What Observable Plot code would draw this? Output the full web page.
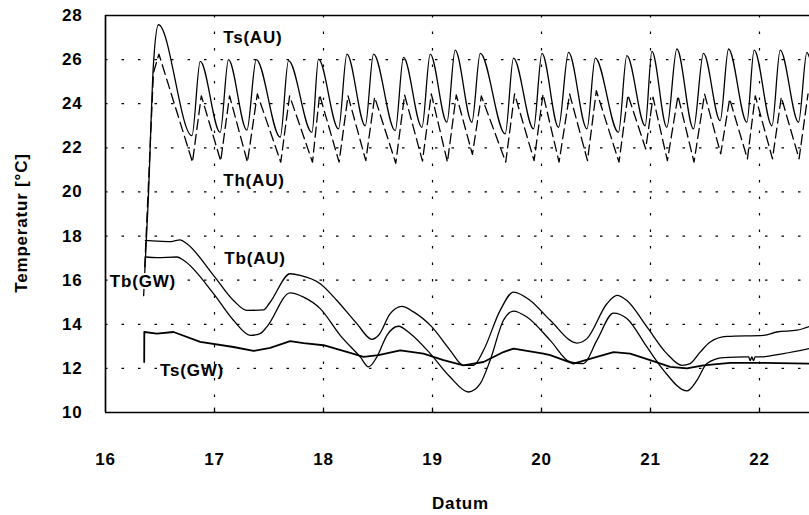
<!DOCTYPE html>
<html><head><meta charset="utf-8">
<script src="https://cdn.jsdelivr.net/npm/d3@7"></script>
<script src="https://cdn.jsdelivr.net/npm/@observablehq/plot@0.6"></script>
<style>html,body{margin:0;padding:0;background:#fff;overflow:hidden}#chart svg{display:block}</style>
</head><body><div id="chart"></div>
<script>
const xTicks = [16, 17, 18, 19, 20, 21, 22];
const yTicks = [10, 12, 14, 16, 18, 20, 22, 24, 26, 28];

// Ts(AU) – solid sawtooth
const tsAU_x = [16.35, 16.392, 16.44, 16.486, 16.793, 16.869, 17.052, 17.128, 17.297, 17.383, 17.603, 17.679, 17.894, 17.954, 18.138, 18.215, 18.383, 18.459, 18.658, 18.734, 18.903, 18.979, 19.132, 19.208, 19.361, 19.438, 19.667, 19.743, 19.927, 20.004, 20.156, 20.248, 20.417, 20.493, 20.706, 20.783, 20.951, 21.013, 21.150, 21.242, 21.394, 21.486, 21.639, 21.716, 21.884, 21.951, 22.114, 22.190, 22.358, 22.435, 22.458];
const tsAU_y = [15.3, 19.6, 25.8, 27.58, 22.55, 25.92, 22.7, 26.0, 22.8, 26.0, 22.48, 25.95, 22.7, 26.02, 22.86, 26.25, 23.0, 26.25, 22.78, 26.1, 22.93, 26.25, 23.16, 26.43, 23.16, 26.28, 22.63, 26.07, 22.86, 26.28, 22.93, 26.33, 22.86, 26.07, 22.7, 26.18, 23.0, 26.37, 22.93, 26.48, 22.86, 26.28, 23.23, 26.48, 23.16, 26.43, 23.0, 26.43, 23.16, 26.33, 26.1];

// Th(AU) – dashed
const thAU_x = [16.36, 16.44, 16.49, 16.798, 16.879, 17.057, 17.138, 17.302, 17.393, 17.608, 17.689, 17.899, 17.964, 18.143, 18.225, 18.388, 18.469, 18.663, 18.744, 18.908, 18.989, 19.137, 19.218, 19.366, 19.448, 19.672, 19.753, 19.932, 20.014, 20.161, 20.258, 20.422, 20.503, 20.711, 20.793, 20.956, 21.023, 21.155, 21.252, 21.399, 21.496, 21.644, 21.726, 21.889, 21.961, 22.119, 22.200, 22.363, 22.445];
const thAU_y = [16.6, 25.4, 26.25, 21.35, 24.36, 21.4, 24.36, 21.35, 24.44, 21.35, 24.36, 21.35, 24.41, 21.35, 24.36, 21.42, 24.3, 21.3, 24.4, 21.4, 24.45, 21.35, 24.4, 21.7, 24.35, 21.35, 24.45, 21.42, 24.44, 21.35, 24.44, 21.42, 24.59, 21.35, 24.4, 21.95, 24.3, 21.42, 24.36, 21.35, 24.44, 21.73, 24.22, 21.5, 24.36, 21.5, 24.3, 21.5, 24.44];

// Tb(AU) – upper smooth curve
const tbAU_x = [16.366, 16.472, 16.60, 16.685, 16.747, 16.991, 17.174, 17.297, 17.45, 17.51, 17.694, 17.786, 17.970, 18.123, 18.306, 18.444, 18.505, 18.612, 18.719, 18.826, 18.994, 19.162, 19.284, 19.376, 19.468, 19.621, 19.743, 19.896, 20.080, 20.325, 20.417, 20.600, 20.692, 20.783, 20.967, 21.150, 21.288, 21.364, 21.456, 21.548, 21.701, 22.037, 22.160, 22.343, 22.458];
const tbAU_y = [17.8, 17.77, 17.75, 17.83, 17.65, 16.22, 15.08, 14.63, 14.65, 15.0, 16.29, 16.22, 15.84, 15.08, 14.03, 13.32, 13.5, 14.48, 14.81, 14.56, 13.88, 12.82, 12.14, 12.14, 12.82, 14.63, 15.46, 15.08, 14.18, 13.15, 13.35, 14.93, 15.31, 15.08, 13.88, 12.67, 12.14, 12.22, 12.74, 13.2, 13.45, 13.5, 13.65, 13.73, 13.9];

// Tb(GW) – lower smooth curve
const tbGW_x = [16.366, 16.472, 16.655, 16.716, 16.991, 17.174, 17.328, 17.419, 17.480, 17.694, 17.817, 17.970, 18.153, 18.337, 18.413, 18.490, 18.582, 18.688, 18.795, 18.979, 19.162, 19.330, 19.438, 19.529, 19.651, 19.743, 19.866, 20.080, 20.263, 20.385, 20.508, 20.661, 20.783, 20.967, 21.119, 21.334, 21.426, 21.517, 21.670, 21.884, 21.90, 21.915, 21.93, 21.945, 21.96, 22.006, 22.220, 22.458];
const tbGW_y = [17.05, 17.02, 17.05, 16.9, 15.39, 14.18, 13.5, 13.58, 13.88, 15.42, 15.23, 14.71, 13.5, 12.52, 12.07, 12.52, 13.5, 13.91, 13.58, 12.67, 11.61, 10.93, 11.31, 12.37, 14.18, 14.6, 14.33, 13.27, 12.29, 12.22, 13.27, 14.51, 14.26, 12.97, 11.92, 10.98, 11.46, 12.22, 12.49, 12.52, 12.52, 12.35, 12.52, 12.35, 12.52, 12.52, 12.67, 12.9];

// Ts(GW) – flat-ish bottom line
const tsGW_x = [16.355, 16.356, 16.472, 16.624, 16.869, 17.174, 17.358, 17.511, 17.694, 17.817, 18.0, 18.245, 18.367, 18.505, 18.704, 18.917, 19.101, 19.284, 19.468, 19.651, 19.743, 20.018, 20.080, 20.294, 20.508, 20.661, 20.813, 20.997, 21.181, 21.334, 21.486, 21.731, 22.037, 22.458];
const tsGW_y = [12.29, 13.65, 13.58, 13.65, 13.2, 12.97, 12.79, 12.93, 13.24, 13.15, 13.05, 12.7, 12.52, 12.6, 12.82, 12.67, 12.37, 12.14, 12.29, 12.74, 12.9, 12.67, 12.6, 12.22, 12.52, 12.74, 12.67, 12.37, 12.07, 12.0, 12.14, 12.25, 12.25, 12.22];

const labelNames = ["Ts(AU)", "Th(AU)", "Tb(AU)", "Tb(GW)", "Ts(GW)"];
const labelX = [17.08, 17.08, 17.09, 16.04, 16.5];
const labelY = [27.0, 20.52, 16.96, 15.92, 11.92];
const labelHalo = [false, false, false, true, false];

const pts = (xs, ys) => xs.map((x, i) => ({x, y: ys[i]}));
const labels = labelNames.map((name, i) => ({name, x: labelX[i], y: labelY[i], halo: labelHalo[i]}));

const FONT = "Arial, 'Liberation Sans', Helvetica, sans-serif";
const grid = {stroke: "#000", strokeOpacity: 1, strokeWidth: 1.2, strokeDasharray: "2.5,14"};
const txt = {fontSize: 17, fontWeight: "bold", fill: "#000"};

const chart = Plot.plot({
  width: 809, height: 515,
  marginLeft: 105, marginRight: 0, marginTop: 15, marginBottom: 103,
  style: {fontFamily: FONT, fontWeight: "bold", fontSize: "17px", letterSpacing: "0.8px", background: "#fff", color: "#000"},
  x: {domain: [16, 16 + 704 / 109], ticks: xTicks},
  y: {domain: [10, 28], ticks: yTicks},
  marks: [
    Plot.gridX(xTicks.slice(1), grid),
    Plot.gridY(yTicks.slice(1, -1), grid),
    Plot.ruleY([10, 28], {stroke: "#000", strokeWidth: 1.7}),
    Plot.ruleX([16], {stroke: "#000", strokeWidth: 1.7}),
    Plot.ruleX(xTicks.slice(1), {y1: 10, y2: 10.2, stroke: "#000", strokeWidth: 1.3}),
    Plot.axisX(xTicks, {tickSize: 0, tickPadding: 40, ...txt, label: null}),
    Plot.axisY(yTicks, {tickSize: 0, tickPadding: 23, ...txt, label: null}),
    Plot.line(pts(tsGW_x, tsGW_y), {x: "x", y: "y", stroke: "#000", strokeWidth: 1.8}),
    Plot.line(pts(tbGW_x, tbGW_y), {x: "x", y: "y", stroke: "#000", strokeWidth: 1.3, curve: "monotone-x"}),
    Plot.line(pts(tbAU_x, tbAU_y), {x: "x", y: "y", stroke: "#000", strokeWidth: 1.3, curve: "monotone-x"}),
    Plot.line(pts(thAU_x, thAU_y), {x: "x", y: "y", stroke: "#000", strokeWidth: 1.3, strokeDasharray: "10,5"}),
    Plot.line(pts(tsAU_x, tsAU_y), {x: "x", y: "y", stroke: "#000", strokeWidth: 1.3, curve: "monotone-x"}),
    Plot.text(labels.filter(d => d.halo), {x: "x", y: "y", text: "name", textAnchor: "start", lineAnchor: "middle", ...txt, stroke: "#fff", strokeWidth: 4, paintOrder: "stroke"}),
    Plot.text(labels.filter(d => !d.halo), {x: "x", y: "y", text: "name", textAnchor: "start", lineAnchor: "middle", ...txt}),
    Plot.text(["Temperatur [°C]"], {text: d => d, frameAnchor: "left", textAnchor: "middle", lineAnchor: "middle", dx: -84, dy: 9, rotate: -90, ...txt}),
    Plot.text(["Datum"], {text: d => d, frameAnchor: "bottom", textAnchor: "middle", lineAnchor: "middle", dx: 3, dy: 91, ...txt})
  ]
});
document.getElementById("chart").appendChild(chart);
</script>
</body></html>
